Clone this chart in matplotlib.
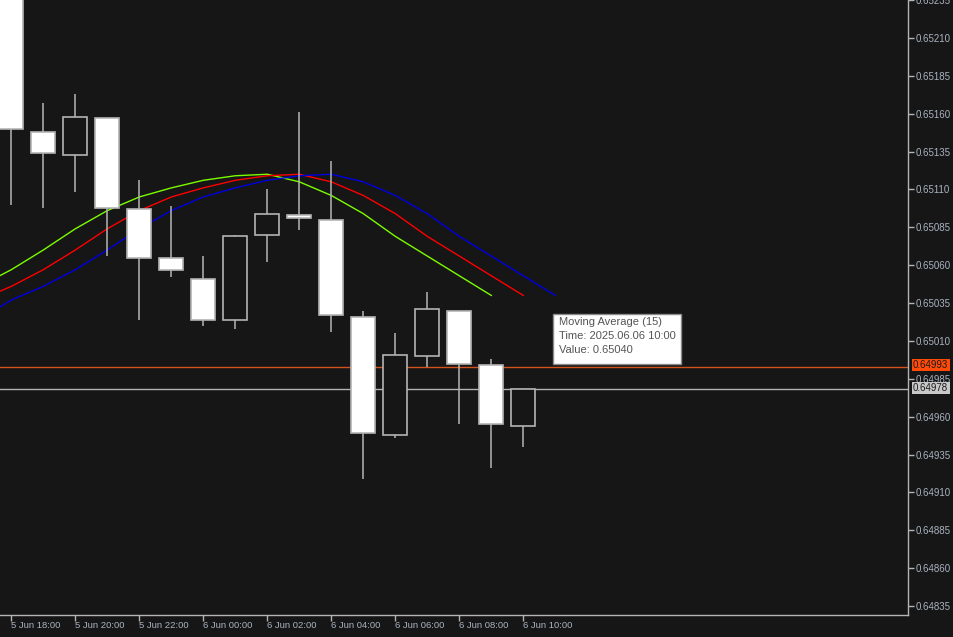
import matplotlib
matplotlib.use('Agg')
import matplotlib.pyplot as plt
from matplotlib.patches import Rectangle

# hourly bars, 5 Jun 18:00 -> 6 Jun 10:00
bar_labels = ['5 Jun 18:00', '5 Jun 19:00', '5 Jun 20:00', '5 Jun 21:00', '5 Jun 22:00',
              '5 Jun 23:00', '6 Jun 00:00', '6 Jun 01:00', '6 Jun 02:00', '6 Jun 03:00',
              '6 Jun 04:00', '6 Jun 05:00', '6 Jun 06:00', '6 Jun 07:00', '6 Jun 08:00',
              '6 Jun 09:00', '6 Jun 10:00']
opens = [0.65245, 0.65148, 0.65133, 0.65157, 0.65097, 0.65065, 0.65051, 0.65024, 0.65080,
         0.65093, 0.65090, 0.65026, 0.64948, 0.65000, 0.65030, 0.64994, 0.64954]
highs = [0.65260, 0.65167, 0.65173, 0.65157, 0.65116, 0.65099, 0.65066, 0.65080, 0.65110,
         0.65161, 0.65129, 0.65030, 0.65015, 0.65042, 0.65030, 0.64998, 0.64978]
lows = [0.65100, 0.65098, 0.65108, 0.65066, 0.65024, 0.65052, 0.65020, 0.65018, 0.65062,
        0.65083, 0.65016, 0.64919, 0.64946, 0.64993, 0.64955, 0.64926, 0.64940]
closes = [0.65150, 0.65134, 0.65158, 0.65098, 0.65065, 0.65057, 0.65024, 0.65079, 0.65094,
          0.65091, 0.65027, 0.64949, 0.65001, 0.65031, 0.64995, 0.64955, 0.64978]

# Moving Average (15), bars 5 Jun 16:00 -> 6 Jun 10:00, drawn with shifts -1 / 0 / +1
ma_values = [0.65024, 0.65037, 0.65046, 0.65057, 0.65070, 0.65084, 0.65096, 0.65105,
             0.65111, 0.65116, 0.65119, 0.65120, 0.65115, 0.65106, 0.65094, 0.65079,
             0.65066, 0.65053, 0.65040]
ma_start = -2

y_ticks = [0.64835, 0.64860, 0.64885, 0.64910, 0.64935, 0.64960, 0.64985, 0.65010, 0.65035,
           0.65060, 0.65085, 0.65110, 0.65135, 0.65160, 0.65185, 0.65210, 0.65235]
bid = 0.64978
ask = 0.64993

bg = '#161616'
fg = '#a9b3c1'
edge = '#b4b4b4'

W, H = 954, 637
fig = plt.figure(figsize=(W / 100, H / 100), dpi=100, facecolor=bg)
ax = fig.add_axes([0, 22 / H, 908 / W, 1 - 22 / H], facecolor=bg)

xs = list(range(len(opens)))

# bid / ask lines
ax.axhline(bid, color='#b4b4b4', lw=1, zorder=1)
ax.axhline(ask, color='#d2521e', lw=1, zorder=1)

# moving averages
ma_x = [ma_start + i for i in range(len(ma_values))]
ax.plot([x - 1 for x in ma_x], ma_values, color='#7cfc00', lw=1, zorder=2)
ax.plot(ma_x, ma_values, color='#ff0000', lw=1, zorder=2)
ax.plot([x + 1 for x in ma_x], ma_values, color='#0000e0', lw=1, zorder=2)

# candles
ax.vlines(xs, lows, highs, color=edge, lw=1.1, zorder=3)
for x, o, c in zip(xs, opens, closes):
    face = 'white' if c < o else bg
    ax.add_patch(Rectangle((x - 0.375, min(o, c)), 0.75, max(abs(c - o), 0.00002),
                           facecolor=face, edgecolor=edge, lw=1.2, zorder=4))

ax.set_xlim(-11.3 / 32, (908 - 11.3) / 32)
ax.set_ylim(0.648291, 0.652330)

ax.set_xticks(xs[::2])
ax.set_xticklabels(bar_labels[::2], ha='left')
ax.yaxis.tick_right()
ax.set_yticks(y_ticks)
ax.set_yticklabels(['%.5f' % v for v in y_ticks])
ax.tick_params(axis='both', colors=edge, labelcolor=fg, labelsize=7, length=4, width=1)
ax.tick_params(axis='y', pad=1.5)
ax.tick_params(axis='x', pad=0.5, labelsize=6.8)
for lbl in ax.get_xticklabels() + ax.get_yticklabels():
    lbl.set_family('Liberation Sans')

for s in ['top', 'left']:
    ax.spines[s].set_visible(False)
for s in ['right', 'bottom']:
    ax.spines[s].set_color(edge)
    ax.spines[s].set_linewidth(1)

# price tags on the right axis
fig.text(913 / W, 1 - 365 / H, '%.5f' % ask, fontsize=7, family='Liberation Sans', color='#1a1a1a',
         va='center', ha='left',
         bbox=dict(boxstyle='square,pad=0.15', facecolor='#ff4a0a', edgecolor='none'))
fig.text(913 / W, 1 - 388 / H, '%.5f' % bid, fontsize=7, family='Liberation Sans', color='#1a1a1a',
         va='center', ha='left',
         bbox=dict(boxstyle='square,pad=0.15', facecolor='#c8c8c8', edgecolor='none'))

# tooltip
fig.patches.append(Rectangle((553 / W, 1 - 364 / H), 128 / W, 50 / H, transform=fig.transFigure,
                             facecolor='white', edgecolor='#8a8a8a', lw=1, zorder=10))
fig.text(559 / W, 1 - 317 / H,
         'Moving Average (15)\nTime: 2025.06.06 10:00\nValue: %.5f' % ma_values[-1],
         fontsize=8.0, family='Liberation Sans', color='#555555', va='top', ha='left',
         linespacing=1.5, zorder=11)

plt.savefig('out.png', dpi=100, facecolor=bg)
